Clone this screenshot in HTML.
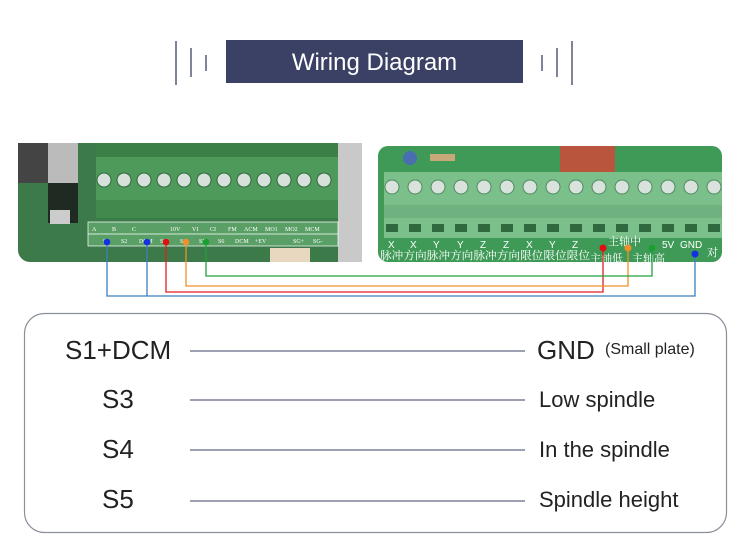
<!DOCTYPE html>
<html><head><meta charset="utf-8"><style>
body{margin:0;background:#fff;}
svg{display:block;}
</style></head><body>
<svg width="750" height="558" viewBox="0 0 750 558" xmlns="http://www.w3.org/2000/svg" font-family="Liberation Sans, sans-serif">
<rect width="750" height="558" fill="#fff"/>
<!-- header -->
<g stroke="#3a4165" stroke-width="1.3">
<line x1="176" y1="41" x2="176" y2="85"/><line x1="191" y1="48" x2="191" y2="77"/><line x1="206" y1="55" x2="206" y2="71"/>
<line x1="542" y1="55" x2="542" y2="71"/><line x1="557" y1="48" x2="557" y2="77"/><line x1="572" y1="41" x2="572" y2="85"/>
</g>
<rect x="226" y="40" width="297" height="43" fill="#3a4165"/>
<text x="374.500" y="70" font-size="24" fill="#fff" text-anchor="middle">Wiring Diagram</text>

<!-- left board -->
<rect x="18" y="143" width="344" height="119" rx="12" fill="#3d7a4a"/>
<rect x="18" y="143" width="30" height="40" fill="#444"/>
<rect x="48" y="143" width="30" height="45" fill="#bbb"/>
<rect x="48" y="183" width="30" height="40" fill="#1f2a22"/>
<rect x="50" y="210" width="20" height="14" fill="#ccc"/>
<rect x="338" y="143" width="24" height="119" fill="#c9c9c9"/>
<rect x="96" y="143" width="242" height="75" fill="#4e9a5a"/>
<rect x="96" y="143" width="242" height="14" fill="#3b7f47"/>
<rect x="96" y="200" width="242" height="18" fill="#3f8a4c"/>
<g fill="#d8e0dc" stroke="#2e6a39" stroke-width="1">
<circle cx="104" cy="180" r="7"/><circle cx="124" cy="180" r="7"/><circle cx="144" cy="180" r="7"/><circle cx="164" cy="180" r="7"/><circle cx="184" cy="180" r="7"/><circle cx="204" cy="180" r="7"/><circle cx="224" cy="180" r="7"/><circle cx="244" cy="180" r="7"/><circle cx="264" cy="180" r="7"/><circle cx="284" cy="180" r="7"/><circle cx="304" cy="180" r="7"/><circle cx="324" cy="180" r="7"/>
</g>
<rect x="88" y="222" width="250" height="24" fill="#5aa066" stroke="#fff" stroke-width="0.7"/>
<line x1="88" y1="234" x2="338" y2="234" stroke="#fff" stroke-width="0.7"/>
<g font-size="6" fill="#fff" font-family="Liberation Serif, serif">
<text x="92" y="231">A</text><text x="112" y="231">B</text><text x="132" y="231">C</text><text x="170" y="231">10V</text><text x="192" y="231">VI</text><text x="210" y="231">CI</text><text x="228" y="231">FM</text><text x="244" y="231">ACM</text><text x="265" y="231">MO1</text><text x="285" y="231">MO2</text><text x="305" y="231">MCM</text>
<text x="103" y="243">S1</text><text x="121" y="243">S2</text><text x="139" y="243">DCM</text><text x="160" y="243">S3</text><text x="180" y="243">S4</text><text x="199" y="243">S5</text><text x="218" y="243">S6</text><text x="235" y="243">DCM</text><text x="255" y="243">+EV</text><text x="293" y="243">SG+</text><text x="313" y="243">SG-</text>
</g>
<rect x="270" y="248" width="40" height="14" fill="#e8d8c0"/>

<!-- right board -->
<rect x="378" y="146" width="344" height="116" rx="10" fill="#3f9a57"/>
<rect x="560" y="146" width="55" height="30" fill="#b8553c"/>
<circle cx="410" cy="158" r="7" fill="#4a6fb0"/>
<rect x="430" y="154" width="25" height="7" fill="#c8a878"/>
<rect x="384" y="172" width="338" height="66" fill="#7bbf8a"/>
<rect x="384" y="205" width="338" height="13" fill="#6fb27f"/>
<g fill="#d9e2dd" stroke="#4f8a5d" stroke-width="1">
<circle cx="392" cy="187" r="7"/><circle cx="415" cy="187" r="7"/><circle cx="438" cy="187" r="7"/><circle cx="461" cy="187" r="7"/><circle cx="484" cy="187" r="7"/><circle cx="507" cy="187" r="7"/><circle cx="530" cy="187" r="7"/><circle cx="553" cy="187" r="7"/><circle cx="576" cy="187" r="7"/><circle cx="599" cy="187" r="7"/><circle cx="622" cy="187" r="7"/><circle cx="645" cy="187" r="7"/><circle cx="668" cy="187" r="7"/><circle cx="691" cy="187" r="7"/><circle cx="714" cy="187" r="7"/>
</g>
<g fill="#2f6a3e">
<rect x="386" y="224" width="12" height="8"/><rect x="409" y="224" width="12" height="8"/><rect x="432" y="224" width="12" height="8"/><rect x="455" y="224" width="12" height="8"/><rect x="478" y="224" width="12" height="8"/><rect x="501" y="224" width="12" height="8"/><rect x="524" y="224" width="12" height="8"/><rect x="547" y="224" width="12" height="8"/><rect x="570" y="224" width="12" height="8"/><rect x="593" y="224" width="12" height="8"/><rect x="616" y="224" width="12" height="8"/><rect x="639" y="224" width="12" height="8"/><rect x="662" y="224" width="12" height="8"/><rect x="685" y="224" width="12" height="8"/><rect x="708" y="224" width="12" height="8"/>
</g>
<g font-size="10" fill="#fff">
<text x="388" y="248">X</text><text x="410" y="248">X</text><text x="433" y="248">Y</text><text x="457" y="248">Y</text><text x="480" y="248">Z</text><text x="503" y="248">Z</text><text x="526" y="248">X</text><text x="549" y="248">Y</text><text x="572" y="248">Z</text><text x="662" y="248">5V</text><text x="680" y="248">GND</text>
</g>
<g font-size="11" fill="#fff" font-family="Liberation Sans, Noto Serif CJK SC, Noto Sans CJK SC, sans-serif">
<text x="380" y="259" textLength="210" lengthAdjust="spacingAndGlyphs">脉冲方向脉冲方向脉冲方向限位限位限位</text>
<text x="608" y="245">主轴中</text>
<text x="590" y="262">主轴低</text><text x="632" y="262">主轴高</text>
<text x="707" y="256">对</text>
</g>

<!-- wires -->
<g fill="none" stroke-width="1.3">
<polyline points="107,242 107,296 695,296 695,254" stroke="#3a7fc0"/>
<polyline points="147,242 147,296" stroke="#3a7fc0"/>
<polyline points="166,242 166,292 603,292 603,248" stroke="#e02020"/>
<polyline points="186,242 186,286 628,286 628,248" stroke="#f0902a"/>
<polyline points="206,242 206,276 652,276 652,248" stroke="#22a040"/>
</g>
<circle cx="107" cy="242" r="3.3" fill="#1530e0"/><circle cx="147" cy="242" r="3.3" fill="#1530e0"/>
<circle cx="166" cy="242" r="3.3" fill="#e01010"/><circle cx="186" cy="242" r="3.3" fill="#f0902a"/><circle cx="206" cy="242" r="3.3" fill="#18a030"/>
<circle cx="603" cy="248" r="3.5" fill="#e01010"/><circle cx="628" cy="248" r="3.5" fill="#f0902a"/><circle cx="652" cy="248" r="3.3" fill="#18a030"/><circle cx="695" cy="254" r="3.5" fill="#1530e0"/>

<!-- bottom box -->
<rect x="24.500" y="313.500" width="702" height="219" rx="20" fill="#fff" stroke="#8a8f9a" stroke-width="1.2"/>
<g stroke="#3a4165" stroke-width="1">
<line x1="190" y1="351" x2="525" y2="351"/><line x1="190" y1="400" x2="525" y2="400"/><line x1="190" y1="450" x2="525" y2="450"/><line x1="190" y1="501" x2="525" y2="501"/>
</g>
<g font-size="26" fill="#222">
<text x="65" y="359">S1+DCM</text>
<text x="102" y="408">S3</text>
<text x="102" y="458">S4</text>
<text x="102" y="508">S5</text>
<text x="537" y="359">GND</text>
</g>
<text x="605" y="354" font-size="16" fill="#222">(Small plate)</text>
<g font-size="22" fill="#222">
<text x="539" y="407">Low spindle</text>
<text x="539" y="457">In the spindle</text>
<text x="539" y="507">Spindle height</text>
</g>
</svg>
</body></html>
